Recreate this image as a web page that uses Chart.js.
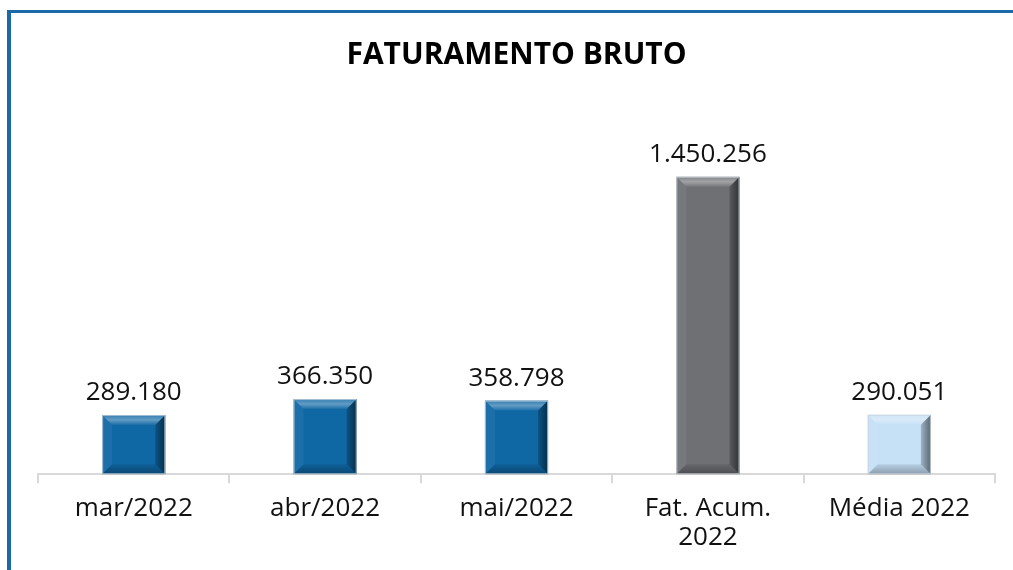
<!DOCTYPE html>
<html>
<head>
<meta charset="utf-8">
<script src="https://cdn.jsdelivr.net/npm/chart.js@4"></script>
<style>
  html, body { margin: 0; padding: 0; background: #ffffff; }
  #wrap { width: 1013px; height: 570px; position: relative; }
</style>
</head>
<body>
<div id="wrap"><canvas id="c" width="1013" height="570"></canvas></div>
<script>
const titleText = 'FATURAMENTO BRUTO';
const categories = ['mar/2022', 'abr/2022', 'mai/2022', ['Fat. Acum.', '2022'], 'Média 2022'];
const values = [289180, 366350, 358798, 1450256, 290051];
const barColors = ['#0F67A4', '#0F67A4', '#0F67A4', '#6F7074', '#C6E0F6'];
const yMax = 1600000;

function fmt(n) {
  return String(Math.round(n)).replace(/\B(?=(\d{3})+(?!\d))/g, '.');
}

const framePlugin = {
  id: 'frame',
  beforeDraw(chart) {
    const ctx = chart.ctx;
    ctx.save();
    ctx.fillStyle = '#ffffff';
    ctx.fillRect(0, 0, chart.width, chart.height);
    ctx.fillStyle = '#1B69A8';
    ctx.fillRect(7, 10, 4, chart.height - 10);
    ctx.fillRect(7, 10, chart.width - 7, 3);
    ctx.restore();
  }
};

const bevelPlugin = {
  id: 'bevel',
  afterDatasetsDraw(chart) {
    const ctx = chart.ctx;
    const meta = chart.getDatasetMeta(0);
    ctx.save();
    meta.data.forEach((bar, i) => {
      const l = bar.x - bar.width / 2, r = bar.x + bar.width / 2;
      const t = bar.y, bt = bar.base;
      const b = Math.min(10, (bt - t) / 4);
      const poly = (pts, fill) => {
        ctx.beginPath();
        ctx.moveTo(pts[0][0], pts[0][1]);
        for (let k = 1; k < pts.length; k++) ctx.lineTo(pts[k][0], pts[k][1]);
        ctx.closePath();
        ctx.fillStyle = fill;
        ctx.fill();
      };
      const gTop = ctx.createLinearGradient(0, t, 0, t + b);
      gTop.addColorStop(0, 'rgba(255,255,255,0.15)');
      gTop.addColorStop(0.5, 'rgba(255,255,255,0.35)');
      gTop.addColorStop(1, 'rgba(255,255,255,0.05)');
      poly([[l, t], [r, t], [r - b, t + b], [l + b, t + b]], gTop);
      poly([[l, t], [l + b, t + b], [l + b, bt - b], [l, bt]], 'rgba(255,255,255,0.06)');
      const gR = ctx.createLinearGradient(r - b, 0, r, 0);
      gR.addColorStop(0, 'rgba(0,0,0,0.2)');
      gR.addColorStop(1, 'rgba(0,0,0,0.55)');
      poly([[r, t], [r, bt], [r - b, bt - b], [r - b, t + b]], gR);
      const gB = ctx.createLinearGradient(0, bt - b, 0, bt);
      gB.addColorStop(0, 'rgba(0,0,0,0.08)');
      gB.addColorStop(1, 'rgba(0,0,0,0.3)');
      poly([[l, bt], [r, bt], [r - b, bt - b], [l + b, bt - b]], gB);
      ctx.strokeStyle = 'rgba(200,210,220,0.8)';
      ctx.lineWidth = 1;
      ctx.strokeRect(l + 0.5, t + 0.5, bar.width - 1, bt - t - 1);
      ctx.fillStyle = '#111111';
      ctx.font = '26px "Open Sans"';
      ctx.textAlign = 'center';
      ctx.textBaseline = 'alphabetic';
      ctx.fillText(fmt(values[i]), bar.x, t - 15);
    });
    ctx.restore();
  }
};

new Chart(document.getElementById('c'), {
  type: 'bar',
  data: {
    labels: categories,
    datasets: [{
      data: values,
      backgroundColor: barColors,
      borderWidth: 0,
      barPercentage: 0.66,
      categoryPercentage: 0.5
    }]
  },
  options: {
    responsive: false,
    animation: false,
    devicePixelRatio: 1,
    layout: { padding: { left: 38, right: 18, top: 0, bottom: 7 } },
    plugins: {
      legend: { display: false },
      tooltip: { enabled: false },
      title: {
        display: true,
        text: titleText,
        color: '#000000',
        font: { family: '"Open Sans"', size: 30, weight: 'bold', lineHeight: 1.2 },
        padding: { top: 37, bottom: 73 }
      }
    },
    scales: {
      y: { display: false, min: 0, max: yMax },
      x: {
        offset: true,
        grid: {
          offset: true,
          drawOnChartArea: false,
          drawTicks: true,
          tickLength: 9,
          color: '#D9D9D9',
          lineWidth: 2
        },
        border: { display: true, color: '#D9D9D9', width: 2 },
        ticks: {
          color: '#111111',
          padding: 10,
          maxRotation: 0,
          autoSkip: false,
          font: { family: '"Open Sans"', size: 26, lineHeight: 1.15 }
        }
      }
    }
  },
  plugins: [framePlugin, bevelPlugin]
});
</script>
</body>
</html>
